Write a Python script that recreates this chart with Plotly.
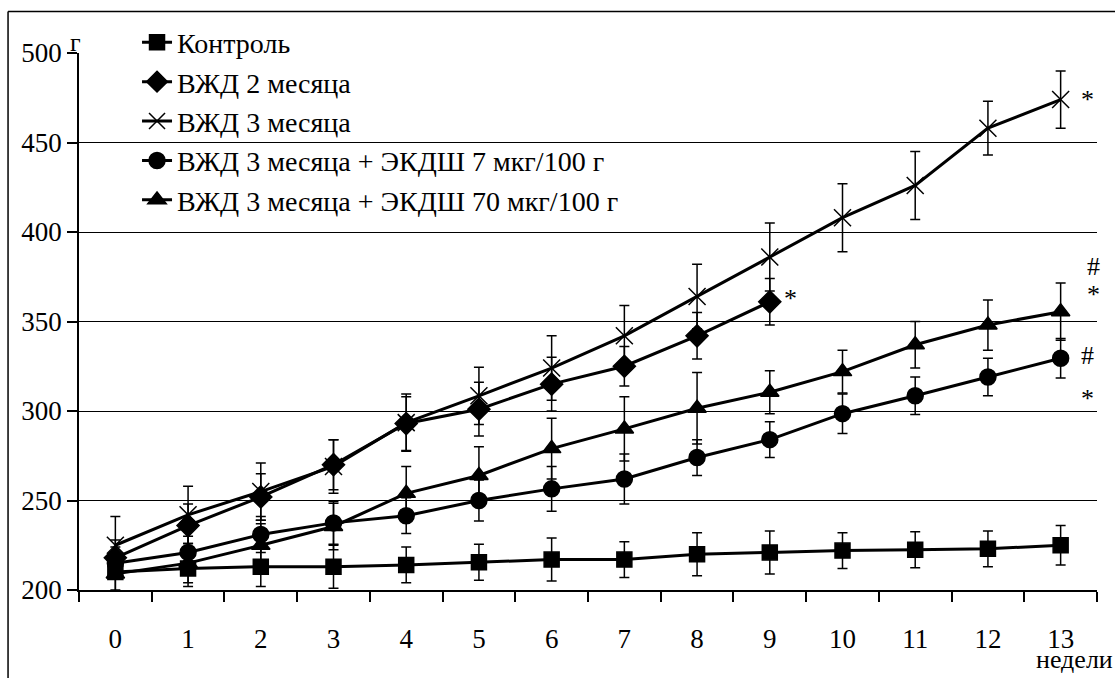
import plotly.graph_objects as go

weeks = list(range(14))
week_labels = [str(w) for w in weeks]
boundaries = [w - 0.5 for w in weeks] + [13.5]

control = [210, 212, 213, 213, 214, 215.5, 217, 217, 220, 221, 222, 222.5, 223, 225]
control_err = [10, 10, 11, 12, 10, 10, 12, 10, 12, 12, 10, 10, 10, 11]

vzhd2_weeks = list(range(10))
vzhd2 = [218, 236, 252, 270, 293, 301, 315, 325, 342, 361]
vzhd2_err = [10, 12, 13, 14, 15, 15, 15, 11, 13, 13]

vzhd3 = [225, 242, 255, 269, 293.5, 308.5, 324, 342, 364, 386, 408, 426, 458, 474]
vzhd3_err = [16, 16, 16, 15, 16, 16, 18, 17, 18, 19, 19, 19, 15, 16]

ekdsh7 = [215, 221, 231, 237.5, 241.5, 250, 256.5, 262, 274, 284, 298.5, 308.5, 319, 329.5]
ekdsh7_err = [9, 9, 10, 12, 10, 11.5, 12.5, 14, 10, 10, 11, 10.5, 10.5, 11]

ekdsh70 = [209, 215, 225, 235.5, 254, 264, 279, 290, 301.5, 310.5, 322, 337, 348, 355.5]
ekdsh70_err = [10, 11, 12, 13, 15, 16, 17, 18, 20, 12, 12, 13, 14, 16]

names = ["Контроль", "ВЖД 2 месяца", "ВЖД 3 месяца",
         "ВЖД 3 месяца + ЭКДШ 7 мкг/100 г", "ВЖД 3 месяца + ЭКДШ 70 мкг/100 г"]

FONT = "Times New Roman"

series = [
    (weeks, control, control_err, "square", 15),
    (vzhd2_weeks, vzhd2, vzhd2_err, "diamond", 17),
    (weeks, vzhd3, vzhd3_err, "x-thin-open", 17),
    (weeks, ekdsh7, ekdsh7_err, "circle", 16),
    (weeks, ekdsh70, ekdsh70_err, "triangle-up", 16),
]

fig = go.Figure()
for name, (xs, ys, es, sym, sz) in zip(names, series):
    fig.add_trace(go.Scatter(
        x=xs, y=ys, name=name, mode="lines+markers",
        line=dict(color="black", width=3),
        marker=dict(symbol=sym, size=sz, color="black",
                    line=dict(color="black", width=1.5)),
        error_y=dict(type="data", array=es, visible=True,
                     color="black", thickness=1.5, width=5),
    ))

annotations = [
    dict(x=13.37, y=474, text="*"),
    dict(x=9.28, y=363, text="*"),
    dict(x=13.45, y=381, text="#"),
    dict(x=13.45, y=365, text="*"),
    dict(x=13.37, y=331, text="#"),
    dict(x=13.37, y=307, text="*"),
]
for a in annotations:
    fig.add_annotation(xref="x", yref="y", showarrow=False,
                       font=dict(family=FONT, size=26, color="black"), **a)

fig.add_annotation(xref="paper", yref="paper", x=-0.0105, y=0.988, yanchor="bottom",
                   text="г", showarrow=False,
                   font=dict(family=FONT, size=26, color="black"))
fig.add_annotation(xref="paper", yref="paper", x=0.938, y=-0.13, xanchor="left",
                   yanchor="middle", text="недели", showarrow=False,
                   font=dict(family=FONT, size=26, color="black"))

# outer frame (left and top edges)
fig.add_shape(type="line", xref="paper", yref="paper",
              x0=-0.0697, x1=-0.0697, y0=1.0773, y1=-0.2, line=dict(color="black", width=1.5))
fig.add_shape(type="line", xref="paper", yref="paper",
              x0=-0.0697, x1=1.02, y0=1.0773, y1=1.0773, line=dict(color="black", width=1.5))
# legend background hiding the gridlines
fig.add_shape(type="rect", xref="paper", yref="paper", layer="between",
              x0=0.0206, x1=0.580, y0=0.70, y1=1.005,
              fillcolor="white", line=dict(width=0))

fig.update_layout(
    width=1115, height=678,
    margin=dict(l=79, r=18, t=53, b=88),
    paper_bgcolor="white", plot_bgcolor="white",
    font=dict(family=FONT, size=26, color="black"),
    showlegend=True,
    legend=dict(x=0.057, y=1.066, xanchor="left", yanchor="top",
                bgcolor="rgba(0,0,0,0)", borderwidth=0,
                font=dict(family=FONT, size=28, color="black")),
    xaxis=dict(range=[-0.5, 13.5], tickvals=weeks, ticktext=week_labels,
               ticks="", showline=True, linecolor="black", linewidth=1.5,
               showgrid=False, zeroline=False, ticklabelstandoff=24,
               tickfont=dict(family=FONT, size=27, color="black"),
               minor=dict(tickvals=boundaries,
                          ticks="outside", ticklen=10, tickcolor="black",
                          tickwidth=1.5, showgrid=False)),
    yaxis=dict(range=[200, 500], tickvals=[200, 250, 300, 350, 400, 450, 500],
               ticks="outside", ticklen=10, tickcolor="black", tickwidth=1.5,
               showline=True, linecolor="black", linewidth=1.5,
               showgrid=True, gridcolor="black", gridwidth=1,
               zeroline=False,
               tickfont=dict(family=FONT, size=27, color="black")),
)

fig.write_html("out.html")
